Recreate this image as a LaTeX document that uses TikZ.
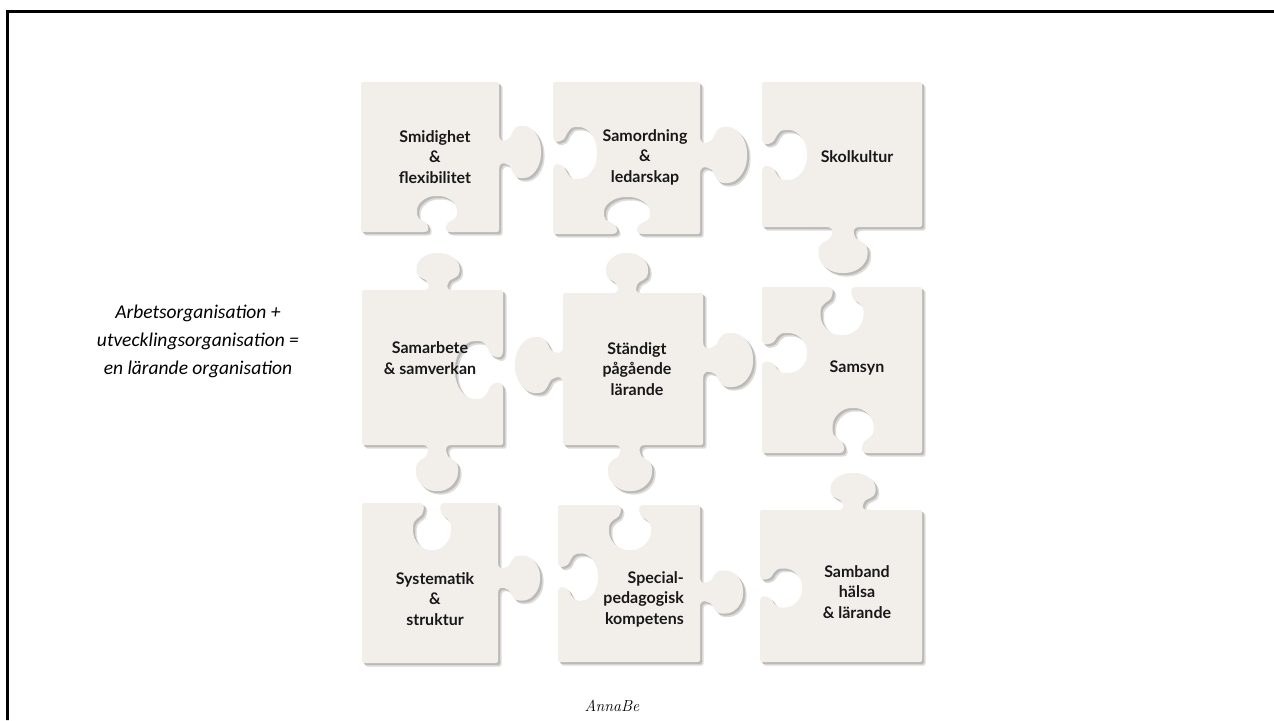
\documentclass[tikz,border=0pt]{standalone}
\usepackage{fontspec}
\setsansfont{Lato}
\newfontfamily\calfont{Carlito}
\definecolor{piecefill}{RGB}{242,239,235}
\definecolor{pieceshadow}{RGB}{188,186,183}
\definecolor{pieceshadowb}{RGB}{222,220,218}
\definecolor{txt}{RGB}{24,24,24}
% point (a,b) in knob-local coordinates -> picture coordinates
\newcommand\KPP[7]{({#1+(#6)*(#3)+(#5)*(#7)*(#4)},{#2+(#6)*(#4)-(#5)*(#7)*(#3)})}
% knob: x0,y0 (centre on edge), ux,uy (direction of travel), s (+1 tab, -1 notch), w (head width), d (depth)
\newcommand\knob[7]{%
 -- \KPP{#1}{#2}{#3}{#4}{#5}{-0.38*#6}{0}
 .. controls \KPP{#1}{#2}{#3}{#4}{#5}{-0.22*#6}{0} and \KPP{#1}{#2}{#3}{#4}{#5}{-0.2*#6}{0.08*#7} .. \KPP{#1}{#2}{#3}{#4}{#5}{-0.24*#6}{0.2*#7}
 .. controls \KPP{#1}{#2}{#3}{#4}{#5}{-0.29*#6}{0.3*#7} and \KPP{#1}{#2}{#3}{#4}{#5}{-0.5*#6}{0.33*#7} .. \KPP{#1}{#2}{#3}{#4}{#5}{-0.5*#6}{0.55*#7}
 .. controls \KPP{#1}{#2}{#3}{#4}{#5}{-0.5*#6}{0.8*#7} and \KPP{#1}{#2}{#3}{#4}{#5}{-0.276*#6}{#7} .. \KPP{#1}{#2}{#3}{#4}{#5}{0}{#7}
 .. controls \KPP{#1}{#2}{#3}{#4}{#5}{0.276*#6}{#7} and \KPP{#1}{#2}{#3}{#4}{#5}{0.5*#6}{0.8*#7} .. \KPP{#1}{#2}{#3}{#4}{#5}{0.5*#6}{0.55*#7}
 .. controls \KPP{#1}{#2}{#3}{#4}{#5}{0.5*#6}{0.33*#7} and \KPP{#1}{#2}{#3}{#4}{#5}{0.29*#6}{0.3*#7} .. \KPP{#1}{#2}{#3}{#4}{#5}{0.24*#6}{0.2*#7}
 .. controls \KPP{#1}{#2}{#3}{#4}{#5}{0.2*#6}{0.08*#7} and \KPP{#1}{#2}{#3}{#4}{#5}{0.22*#6}{0} .. \KPP{#1}{#2}{#3}{#4}{#5}{0.38*#6}{0}
}
\newcommand\pieceA{(361,82) -- (499,82) \knob{499}{152}{0}{1}{1}{52}{42} -- (499,232) \knob{437}{232}{-1}{0}{-1}{40}{36} -- (361,232) -- cycle}
\newcommand\pieceB{(553,82) -- (700,82) \knob{700}{155}{0}{1}{1}{56}{47} -- (700,234) \knob{627}{234}{-1}{0}{-1}{46}{37} -- (553,234) \knob{553}{153}{0}{-1}{-1}{52}{44} -- cycle}
\newcommand\pieceC{(762,82) -- (922,82) -- (922,227) \knob{843}{227}{-1}{0}{1}{49}{46} -- (762,227) \knob{762}{155}{0}{-1}{-1}{50}{45} -- cycle}
\newcommand\pieceD{(362,290) \knob{438}{290}{1}{0}{1}{43}{37} -- (503,290) \knob{503}{370}{0}{1}{-1}{58}{48} -- (503,445) \knob{437}{445}{-1}{0}{1}{42}{46} -- (362,445) -- cycle}
\newcommand\pieceE{(563,293) \knob{627}{293}{1}{0}{1}{42}{40} -- (703,293) \knob{703}{360}{0}{1}{1}{54}{50} -- (703,445) \knob{630}{445}{-1}{0}{1}{44}{46} -- (563,445) \knob{563}{365}{0}{-1}{1}{56}{48} -- cycle}
\newcommand\pieceF{(762,287) \knob{842}{287}{1}{0}{-1}{43}{48} -- (922,287) -- (922,453) \knob{853}{453}{-1}{0}{-1}{41}{45} -- (762,453) \knob{762}{353}{0}{-1}{-1}{40}{45} -- cycle}
\newcommand\pieceG{(362,503) \knob{432}{503}{1}{0}{-1}{38}{47} -- (498,503) \knob{498}{578}{0}{1}{1}{45}{42} -- (498,663) -- (362,663) -- cycle}
\newcommand\pieceH{(558,505) \knob{630}{505}{1}{0}{-1}{42}{45} -- (700,505) \knob{700}{592}{0}{1}{1}{43}{43} -- (700,662) -- (558,662) \knob{558}{577}{0}{-1}{-1}{47}{40} -- cycle}
\newcommand\pieceI{(760,510) \knob{853}{510}{1}{0}{1}{45}{37} -- (922,510) -- (922,662) -- (760,662) \knob{760}{588}{0}{-1}{-1}{39}{42} -- cycle}
\newcommand\drawpiece[1]{%
  \fill[pieceshadowb, xshift=3.5pt, yshift=-3.5pt] #1;
  \fill[pieceshadow, xshift=2pt, yshift=-2pt] #1;
  \fill[piecefill] #1;}
\begin{document}
\begin{tikzpicture}[x=1pt, y=-1pt,
  lbl/.style={text=txt, align=center, font=\sffamily\bfseries\fontsize{16}{20.5}\selectfont, inner sep=0pt},
  rounded corners=2pt]
\useasboundingbox (0,0) rectangle (1274,720);
\clip (0,0) rectangle (1274,720);
\fill[white] (0,0) rectangle (1274,720);
% frame
\draw[line width=3pt, sharp corners] (7,740) -- (7,11) -- (1290,11);
% pieces
\drawpiece{\pieceA}
\drawpiece{\pieceB}
\drawpiece{\pieceC}
\drawpiece{\pieceD}
\drawpiece{\pieceE}
\drawpiece{\pieceF}
\drawpiece{\pieceG}
\drawpiece{\pieceH}
\drawpiece{\pieceI}
% labels
\node[lbl] (tA) at (435,157) {Smidighet\\\&\\flexibilitet};
\node[lbl] (tB) at (645,157) {Samordning\\\&\\ledarskap};
\node[lbl] (tC) at (857,157) {Skolkultur};
\node[lbl] (tD) at (430,358) {Samarbete\\\& samverkan};
\node[lbl] (tE) at (637,369) {Ständigt\\pågående\\lärande};
\node[lbl] (tF) at (857,368) {Samsyn};
\node[lbl] (tG) at (435,599) {Systematik\\\&\\struktur};
\node[lbl, align=right, anchor=east] (tH) at (684,599) {Special-\\pedagogisk\\kompetens};
\node[lbl] (tI) at (857,592) {Samband\\hälsa\\\& lärande};
% left statement
\node[align=center, inner sep=0pt, font=\calfont\itshape\fontsize{19.5}{28}\selectfont] (stmt) at (198,341)
  {Arbetsorganisation +\\utvecklingsorganisation =\\en lärande organisation};
% signature
\node[inner sep=0pt, font=\itshape\fontsize{16}{18}\selectfont] (sig) at (612,706) {AnnaBe};
\end{tikzpicture}
\end{document}
